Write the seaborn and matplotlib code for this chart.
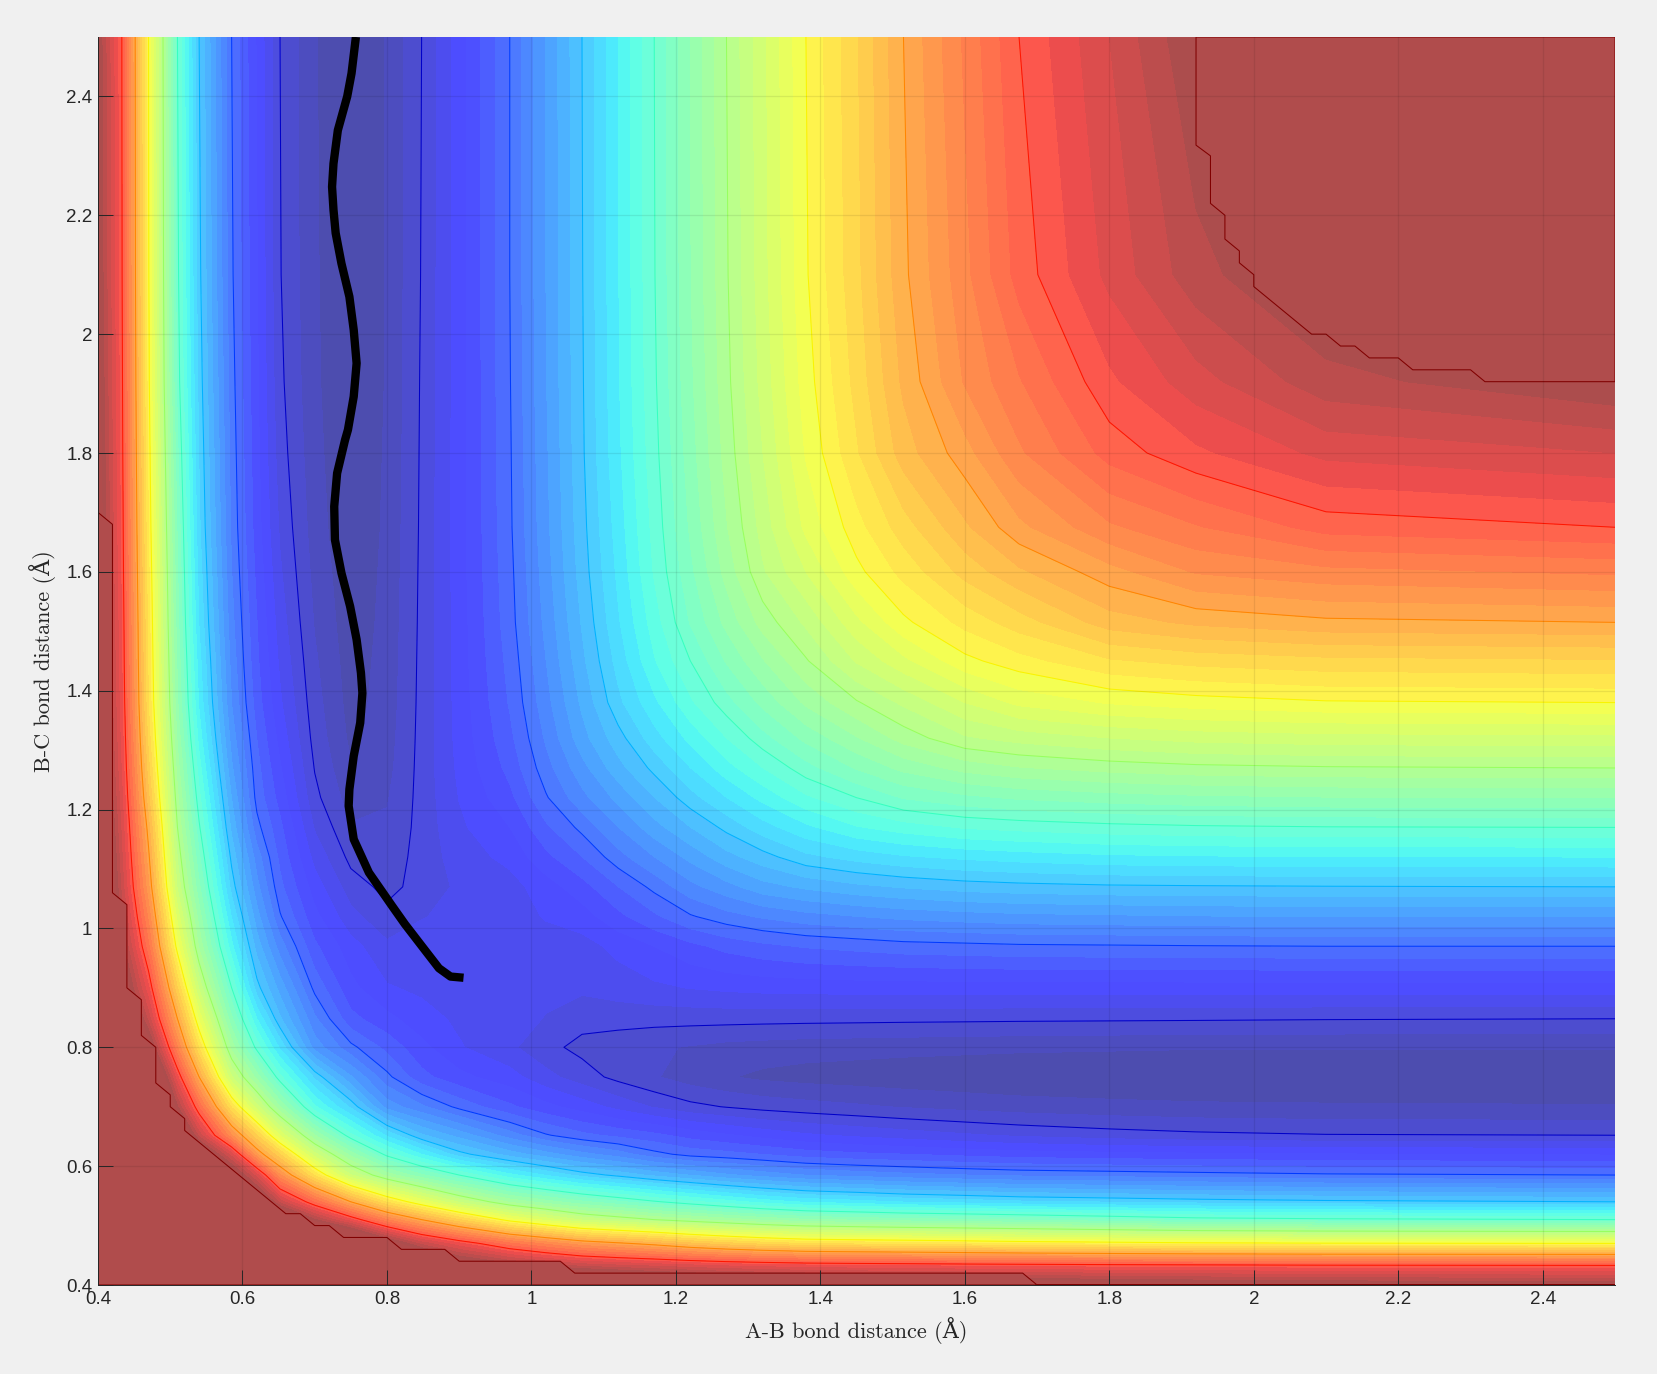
import numpy as np
import matplotlib
matplotlib.use("Agg")
import matplotlib.pyplot as plt
from matplotlib.colors import ListedColormap
import seaborn as sns

# bond distances (angstrom) where the surface heights below were read
r_nodes = [0.40, 0.433, 0.47, 0.51, 0.54, 0.585, 0.62, 0.652, 0.70, 0.75, 0.80, 0.848, 0.90, 0.97, 1.02,
           1.07, 1.12, 1.17, 1.22, 1.27, 1.32, 1.38, 1.45, 1.515, 1.6, 1.675, 1.8, 1.92, 2.1, 2.5]

# surface height in contour-line units. it is mirror
# symmetric, so each list starts on the diagonal and runs to r = 2.5
z_040 = [12, 12, 12, 12, 12, 12, 12, 12, 12, 12, 11.5, 11, 10.7, 10.5, 10.2, 10, 9.85, 9.7, 9.6, 9.5, 9.45, 9.4,
         9.35, 9.3, 9.25, 9.2, 9.15, 9.1, 9.05, 9]
z_043 = [12, 12, 12, 12, 12, 12, 12, 11.5, 11, 10.5, 9.8, 9.3, 8.95, 8.75, 8.6, 8.52, 8.45, 8.37, 8.3, 8.25, 8.2,
         8.17, 8.15, 8.12, 8.1, 8.07, 8.05, 8.02, 8]
z_047 = [12, 12, 12, 12, 12, 11.5, 10.8, 10, 9.2, 8.6, 8.2, 7.7, 7.45, 7.2, 7.05, 6.9, 6.7, 6.55, 6.43, 6.32,
         6.28, 6.25, 6.2, 6.15, 6.1, 6.05, 6.02, 6]
z_051 = [12, 12, 11, 10.3, 9.7, 8.85, 8.2, 7.5, 7.0, 6.5, 5.9, 5.6, 5.3, 5.15, 5.0, 4.87, 4.75, 4.63, 4.52,
         4.46, 4.4, 4.35, 4.3, 4.2, 4.1, 4.05, 4]
z_054 = [12, 10.5, 9.5, 8.6, 7.8, 7.0, 6.3, 5.8, 5.3, 4.8, 4.58, 4.37, 4.2, 4.03, 3.88, 3.74, 3.6, 3.47,
         3.4, 3.32, 3.26, 3.2, 3.15, 3.1, 3.05, 3]
z_058 = [9.3, 8.4, 7.35, 6.3, 5.35, 4.77, 4.37, 4.0, 3.55, 3.32, 3.1, 2.95, 2.79, 2.66, 2.53, 2.43, 2.33,
         2.27, 2.22, 2.17, 2.13, 2.1, 2.07, 2.03, 2]
z_062 = [7.2, 6.5, 5.4, 4.6, 3.93, 3.5, 3.07, 2.76, 2.57, 2.39, 2.25, 2.06, 1.94, 1.89, 1.83, 1.75,
         1.7, 1.67, 1.62, 1.58, 1.55, 1.53, 1.51, 1.48]
z_065 = [5.65, 4.67, 3.88, 3.3, 2.86, 2.6, 2.25, 2.02, 1.88, 1.79, 1.71, 1.6, 1.52, 1.44, 1.36,
         1.3, 1.25, 1.19, 1.14, 1.08, 1.04, 1.01, 1]
z_070 = [3.7, 3.13, 2.43, 2.2, 1.95, 1.7, 1.55, 1.42, 1.28, 1.15, 1.05, 0.99, 0.94, 0.9,
         0.86, 0.82, 0.78, 0.75, 0.72, 0.7, 0.69, 0.68]
z_075 = [2.52, 2.05, 1.72, 1.55, 1.4, 1.22, 1.08, 0.95, 0.85, 0.75, 0.68, 0.63, 0.6,
         0.58, 0.56, 0.54, 0.52, 0.51, 0.5, 0.5, 0.5]
z_080 = [1.78, 1.55, 1.35, 1.2, 1.05, 0.95, 0.91, 0.86, 0.82, 0.78, 0.76, 0.74,
         0.73, 0.72, 0.71, 0.7, 0.69, 0.68, 0.68, 0.68]
z_085 = [1.4, 1.3, 1.22, 1.16, 1.06, 1.06, 1.06, 1.06, 1.06, 1.055, 1.05,
         1.045, 1.04, 1.035, 1.03, 1.025, 1.02, 1.01, 1.0]
z_090 = [1.28, 1.22, 1.2, 1.2, 1.25, 1.3, 1.34, 1.37, 1.39, 1.4, 1.41, 1.41, 1.42, 1.42, 1.42, 1.42, 1.42, 1.42]
z_097 = [1.25, 1.24, 1.27, 1.38, 1.5, 1.62, 1.72, 1.79, 1.85, 1.89, 1.93, 1.95, 1.97, 1.98, 1.99, 2, 2]
z_102 = [1.35, 1.42, 1.62, 1.8, 1.98, 2.1, 2.19, 2.27, 2.33, 2.38, 2.42, 2.45, 2.47, 2.49, 2.5, 2.5]
z_107 = [1.6, 1.83, 2.05, 2.28, 2.44, 2.6, 2.7, 2.79, 2.85, 2.91, 2.94, 2.97, 2.98, 2.99, 3]
z_112 = [2.1, 2.33, 2.55, 2.77, 2.93, 3.12, 3.23, 3.31, 3.37, 3.41, 3.46, 3.48, 3.49, 3.5]
z_117 = [2.6, 2.83, 3.05, 3.26, 3.46, 3.65, 3.75, 3.85, 3.89, 3.94, 3.97, 3.99, 4]
z_122 = [3.1, 3.33, 3.55, 3.8, 4.0, 4.18, 4.29, 4.36, 4.42, 4.46, 4.49, 4.5]
z_127 = [3.6, 3.83, 4.1, 4.35, 4.55, 4.73, 4.82, 4.9, 4.95, 4.98, 5]
z_132 = [4.1, 4.38, 4.65, 4.9, 5.14, 5.23, 5.33, 5.39, 5.43, 5.45]
z_138 = [4.7, 4.98, 5.2, 5.5, 5.71, 5.85, 5.92, 5.98, 6]
z_145 = [5.35, 5.62, 5.95, 6.1, 6.31, 6.39, 6.45, 6.48]
z_152 = [5.96, 6.22, 6.42, 6.75, 6.87, 6.96, 7]
z_160 = [6.56, 6.8, 7.1, 7.35, 7.45, 7.53]
z_168 = [7.12, 7.47, 7.65, 7.9, 8]
z_180 = [7.9, 8.13, 8.38, 8.5]
z_192 = [8.43, 8.77, 9]
z_210 = [9.07, 9.3]
z_250 = [10]

# edge of the clipped high energy region, it steps along the calculation grid
clip_low_x = [0.40, 0.40, 0.42, 0.42, 0.44, 0.44, 0.46, 0.46, 0.48, 0.48, 0.50, 0.50, 0.52, 0.52,
              0.66, 0.68, 0.70, 0.72, 0.74, 0.80, 0.82, 0.88, 0.90, 1.04, 1.06, 1.68, 1.70, 2.5, 0.40]
clip_low_y = [0.40, 1.70, 1.68, 1.06, 1.04, 0.90, 0.88, 0.82, 0.80, 0.74, 0.72, 0.70, 0.68, 0.66,
              0.52, 0.52, 0.50, 0.50, 0.48, 0.48, 0.46, 0.46, 0.44, 0.44, 0.42, 0.42, 0.40, 0.40, 0.40]
clip_high_x = [1.92, 1.92, 1.94, 1.94, 1.96, 1.96, 1.98, 1.98, 2.00, 2.00, 2.08, 2.10, 2.12, 2.14,
               2.16, 2.20, 2.22, 2.30, 2.32, 2.5, 2.5, 1.92]
clip_high_y = [2.5, 2.318, 2.30, 2.22, 2.20, 2.16, 2.14, 2.12, 2.10, 2.08, 2.00, 2.00, 1.98, 1.98,
               1.96, 1.96, 1.94, 1.94, 1.92, 1.92, 2.5, 2.5]

# reaction trajectory
traj_ab = [0.906, 0.888, 0.872, 0.851, 0.825, 0.807, 0.775, 0.754, 0.747, 0.748, 0.754, 0.763, 0.766, 0.764,
           0.758, 0.749, 0.737, 0.728, 0.727, 0.731, 0.742, 0.746, 0.754, 0.758, 0.754, 0.748, 0.737, 0.729,
           0.726, 0.724, 0.726, 0.732, 0.745, 0.751, 0.757]
traj_bc = [0.917, 0.919, 0.933, 0.966, 1.007, 1.038, 1.094, 1.15, 1.206, 1.234, 1.29, 1.346, 1.396, 1.43,
           1.486, 1.542, 1.598, 1.654, 1.71, 1.766, 1.822, 1.839, 1.895, 1.951, 2.007, 2.063, 2.119, 2.17,
           2.209, 2.248, 2.287, 2.343, 2.4, 2.439, 2.5]

tick_values = [0.4, 0.6, 0.8, 1, 1.2, 1.4, 1.6, 1.8, 2, 2.2, 2.4]
tick_labels = ["0.4", "0.6", "0.8", "1", "1.2", "1.4", "1.6", "1.8", "2", "2.2", "2.4"]
line_levels = [1, 2, 3, 4, 5, 6, 7, 8]

sns.set_style("white")
plt.rcParams["font.family"] = ["Liberation Sans", "DejaVu Sans"]
bg = "#f0f0f0"

columns = [z_040, z_043, z_047, z_051, z_054, z_058, z_062, z_065, z_070, z_075, z_080, z_085, z_090, z_097, z_102,
           z_107, z_112, z_117, z_122, z_127, z_132, z_138, z_145, z_152, z_160, z_168, z_180, z_192, z_210, z_250]
Z = np.zeros((len(r_nodes), len(r_nodes)))
for i, col in enumerate(columns):
    Z[i:, i] = col
    Z[i, i:] = col

fig = plt.figure(figsize=(16.58, 13.74), dpi=100, facecolor=bg)
ax = fig.add_axes([98 / 1658, 89 / 1374, 1517 / 1658, 1248 / 1374])

# jet at 70% over white, opaque so the band edges leave no seams
jet = matplotlib.colormaps["jet"]
fill_cmap = ListedColormap(0.7 * jet(np.linspace(0, 1, 256)) + 0.3).with_extremes(over="#b04c4c")
norm = plt.Normalize(0.45, 9)
bands = np.arange(0.5, 9.01, 1 / 6)

ax.contourf(r_nodes, r_nodes, Z, levels=bands, cmap=fill_cmap, norm=norm, extend="max", zorder=1)
ax.contour(r_nodes, r_nodes, Z, levels=line_levels, cmap=jet, norm=norm, linewidths=0.75, zorder=2)

ax.fill(clip_low_x, clip_low_y, facecolor="#b04c4c", edgecolor="#800000", linewidth=0.75, zorder=2)
ax.fill(clip_high_x, clip_high_y, facecolor="#b04c4c", edgecolor="#800000", linewidth=0.75, zorder=2)

ax.set_xlim(0.4, 2.5)
ax.set_ylim(0.4, 2.5)
ax.set_xticks(tick_values, tick_labels)
ax.set_yticks(tick_values, tick_labels)
ax.grid(True, color="black", alpha=0.08, linewidth=0.9, zorder=3)
ax.set_axisbelow(False)

sns.lineplot(x=traj_ab, y=traj_bc, sort=False, estimator=None, color="black", linewidth=6,
             solid_capstyle="butt", solid_joinstyle="round", ax=ax, zorder=4)

sns.despine(ax=ax, top=True, right=True)
for side in ["left", "bottom"]:
    ax.spines[side].set_color("#262626")
    ax.spines[side].set_linewidth(0.7)
    ax.spines[side].set_zorder(5)
ax.tick_params(axis="both", direction="in", length=10.5, width=0.7, color="#262626",
               labelcolor="#262626", labelsize=13.5, pad=4, left=True, bottom=True)

label_font = {"family": ["cmr10", "DejaVu Serif"], "size": 16, "color": "#262626"}
ax.set_xlabel("A-B bond distance (Å)", labelpad=7, **label_font)
ax.set_ylabel("B-C bond distance (Å)", labelpad=7, **label_font)

fig.savefig("out.png", dpi=100, facecolor=bg)
